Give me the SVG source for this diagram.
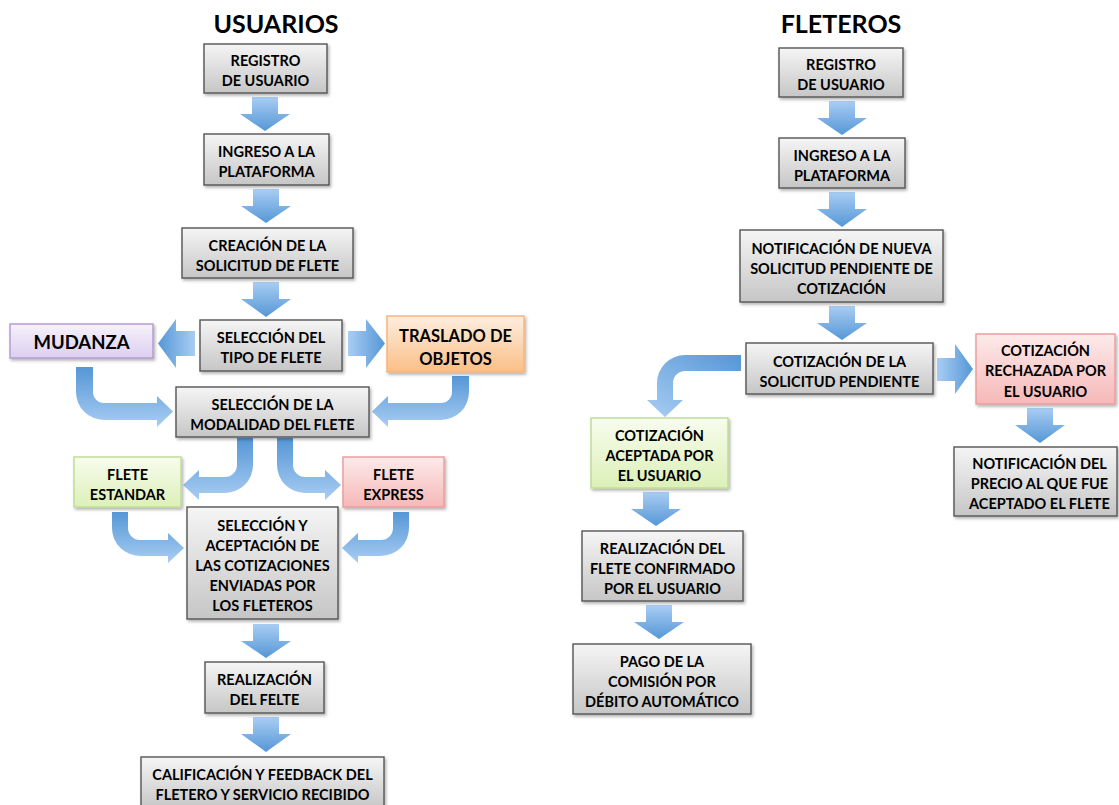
<svg xmlns="http://www.w3.org/2000/svg" width="1119" height="805" viewBox="0 0 1119 805">
<style>
text{font-family:Lato,"Liberation Sans",sans-serif;font-weight:bold;fill:#000;text-anchor:middle}
.t{font-size:14.5px}
.title{font-size:25px}
.box{stroke:#555;stroke-width:1.4;filter:url(#sh)}
.gray{fill:url(#gGray)}
.purple{fill:url(#gPurple);stroke:#b296d2}
.orange{fill:url(#gOrange);stroke:#f7b27a}
.green{fill:url(#gGreen);stroke:#bcdc92}
.red{fill:url(#gRed);stroke:#ea9a9a}
.ad{fill:url(#gDown)}
.ab{fill:url(#gBendV)}
</style>
<defs>
<filter id="sh" x="-10%" y="-10%" width="130%" height="140%">
<feDropShadow dx="1.5" dy="2" stdDeviation="1.5" flood-color="#000" flood-opacity="0.3"/>
</filter>
<linearGradient id="gGray" x1="0" y1="0" x2="0" y2="1"><stop offset="0" stop-color="#f5f5f5"/><stop offset="1" stop-color="#c6c6c6"/></linearGradient>
<linearGradient id="gPurple" x1="0" y1="0" x2="0" y2="1"><stop offset="0" stop-color="#f6f2fb"/><stop offset="1" stop-color="#dccff0"/></linearGradient>
<linearGradient id="gOrange" x1="0" y1="0" x2="0" y2="1"><stop offset="0" stop-color="#fdeee0"/><stop offset="1" stop-color="#fbbf86"/></linearGradient>
<linearGradient id="gGreen" x1="0" y1="0" x2="0" y2="1"><stop offset="0" stop-color="#f8fcee"/><stop offset="1" stop-color="#dcf0b8"/></linearGradient>
<linearGradient id="gRed" x1="0" y1="0" x2="0" y2="1"><stop offset="0" stop-color="#fdeaea"/><stop offset="1" stop-color="#f6b8b8"/></linearGradient>
<linearGradient id="gDown" x1="0" y1="0" x2="0" y2="1"><stop offset="0" stop-color="#a9cdf3"/><stop offset="1" stop-color="#5597d6"/></linearGradient>
<linearGradient id="gLeft" x1="0" y1="0" x2="1" y2="0"><stop offset="0" stop-color="#5597d6"/><stop offset="1" stop-color="#a9cdf3"/></linearGradient>
<linearGradient id="gRight" x1="0" y1="0" x2="1" y2="0"><stop offset="0" stop-color="#a9cdf3"/><stop offset="1" stop-color="#5597d6"/></linearGradient>
<linearGradient id="gBendV" x1="0" y1="0" x2="0" y2="1"><stop offset="0" stop-color="#5597d6"/><stop offset="1" stop-color="#a9cdf3"/></linearGradient>
<linearGradient id="gBendF" x1="1" y1="0" x2="0" y2="1"><stop offset="0" stop-color="#5597d6"/><stop offset="1" stop-color="#a9cdf3"/></linearGradient>
</defs>

<text class="title" x="276" y="33">USUARIOS</text>
<text class="title" x="841" y="33">FLETEROS</text>

<g id="connectors">
<path class="ad" d="M252,97 H278 V114 H290 L265,131 L240,114 H252 Z"/>
<path class="ad" d="M253,189 H279 V206 H291 L266,223 L241,206 H253 Z"/>
<path class="ad" d="M253,282 H279 V299 H291 L266,317 L241,299 H253 Z"/>
<path class="ad" d="M253,624 H279 V641 H291 L266,658 L241,641 H253 Z"/>
<path class="ad" d="M253,717 H279 V734 H291 L266,752 L241,734 H253 Z"/>
<path fill="url(#gLeft)" d="M195,331 V356 H176 V368 L158,343.5 L176,319 V331 Z"/>
<path fill="url(#gRight)" d="M348,331 V356 H366 V368 L385,343.5 L366,319 V331 Z"/>
<path class="ab" d="M76,367 H93 V392 A11,11 0 0 0 104,403 H157 V396 L173,411.5 L157,427 V420 H104 A28,28 0 0 1 76,392 Z"/>
<path class="ab" d="M469,376 V392 A28,28 0 0 1 441,420 H388 V427 L372,411.5 L388,396 V403 H441 A11,11 0 0 0 452,392 V376 Z"/>
<path class="ab" d="M253,438 V465 A28,28 0 0 1 225,493 H199 V500 L183,485 L199,470 V477 H225 A12,12 0 0 0 237,465 V438 Z"/>
<path class="ab" d="M277,438 H293 V465 A12,12 0 0 0 305,477 H325 V470 L341,485 L325,500 V493 H305 A28,28 0 0 1 277,465 Z"/>
<path class="ab" d="M112,512 H128 V528 A12,12 0 0 0 140,540 H168 V533 L184,548 L168,563 V556 H140 A28,28 0 0 1 112,528 Z"/>
<path class="ab" d="M409,512 V528 A28,28 0 0 1 381,556 H358 V563 L342,548 L358,533 V540 H381 A12,12 0 0 0 393,528 V512 Z"/>
<path class="ad" d="M829,101 H855 V118 H867 L842,135 L817,118 H829 Z"/>
<path class="ad" d="M829,192 H855 V209 H867 L842,227 L817,209 H829 Z"/>
<path class="ad" d="M829,306 H855 V323 H867 L842,340 L817,323 H829 Z"/>
<path fill="url(#gRight)" d="M937,358 V381 H955 V394 L973,369 L955,344 V358 Z"/>
<path class="ad" d="M1027,408 H1053 V425 H1065 L1040,443 L1015,425 H1027 Z"/>
<path fill="url(#gBendF)" d="M741,355 V371 H685 A12,12 0 0 0 673,383 V400 H683 L665,417 L647,400 H657 V383 A28,28 0 0 1 685,355 Z"/>
<path class="ad" d="M643,492 H669 V509 H681 L656,526 L631,509 H643 Z"/>
<path class="ad" d="M646,605 H672 V622 H684 L659,639 L634,622 H646 Z"/>
</g>

<g id="u_registro"><rect class="box gray" x="204" y="44" width="123" height="49"/><text class="t" x="265.5" y="66">REGISTRO</text><text class="t" x="265.5" y="86">DE USUARIO</text></g>
<g id="u_ingreso"><rect class="box gray" x="204" y="134" width="125" height="51"/><text class="t" x="266.5" y="157">INGRESO A LA</text><text class="t" x="266.5" y="177">PLATAFORMA</text></g>
<g id="u_creacion"><rect class="box gray" x="182" y="228" width="171" height="50"/><text class="t" x="267.5" y="250.5">CREACIÓN DE LA</text><text class="t" x="267.5" y="270.5">SOLICITUD DE FLETE</text></g>
<g id="u_tipo"><rect class="box gray" x="200" y="320" width="142" height="51"/><text class="t" x="271" y="343">SELECCIÓN DEL</text><text class="t" x="271" y="363">TIPO DE FLETE</text></g>
<g id="u_mudanza"><rect class="box purple" x="10" y="324" width="143" height="34"/><text x="81.5" y="348.5" style="font-size:18.5px">MUDANZA</text></g>
<g id="u_traslado"><rect class="box orange" x="387" y="316" width="137" height="56"/><text x="455.5" y="342" style="font-size:16.5px">TRASLADO DE</text><text x="455.5" y="365" style="font-size:16.5px">OBJETOS</text></g>
<g id="u_modalidad"><rect class="box gray" x="176" y="387" width="193" height="50"/><text class="t" x="272.5" y="409.5">SELECCIÓN DE LA</text><text class="t" x="272.5" y="429.5">MODALIDAD DEL FLETE</text></g>
<g id="u_estandar"><rect class="box green" x="74" y="457" width="107" height="50"/><text class="t" x="127.5" y="479.5">FLETE</text><text class="t" x="127.5" y="499.5">ESTANDAR</text></g>
<g id="u_express"><rect class="box red" x="343" y="457" width="101" height="50"/><text class="t" x="393.5" y="479.5">FLETE</text><text class="t" x="393.5" y="499.5">EXPRESS</text></g>
<g id="u_seleccion"><rect class="box gray" x="187" y="507" width="151" height="112"/><text class="t" x="262.5" y="530.5">SELECCIÓN Y</text><text class="t" x="262.5" y="550.5">ACEPTACIÓN DE</text><text class="t" x="262.5" y="570.5">LAS COTIZACIONES</text><text class="t" x="262.5" y="590.5">ENVIADAS POR</text><text class="t" x="262.5" y="610.5">LOS FLETEROS</text></g>
<g id="u_realizacion"><rect class="box gray" x="205" y="662" width="119" height="51"/><text class="t" x="264.5" y="685">REALIZACIÓN</text><text class="t" x="264.5" y="705">DEL FELTE</text></g>
<g id="u_calificacion"><rect class="box gray" x="141" y="757" width="243" height="52"/><text class="t" x="262.5" y="780">CALIFICACIÓN Y FEEDBACK DEL</text><text class="t" x="262.5" y="800">FLETERO Y SERVICIO RECIBIDO</text></g>

<g id="f_registro"><rect class="box gray" x="779" y="48" width="124" height="49"/><text class="t" x="841" y="70">REGISTRO</text><text class="t" x="841" y="90">DE USUARIO</text></g>
<g id="f_ingreso"><rect class="box gray" x="779" y="138" width="126" height="50"/><text class="t" x="842" y="160.5">INGRESO A LA</text><text class="t" x="842" y="180.5">PLATAFORMA</text></g>
<g id="f_notificacion"><rect class="box gray" x="740" y="230" width="203" height="72"/><text class="t" x="841.5" y="253.5">NOTIFICACIÓN DE NUEVA</text><text class="t" x="841.5" y="273.5">SOLICITUD PENDIENTE DE</text><text class="t" x="841.5" y="293.5">COTIZACIÓN</text></g>
<g id="f_cotizacion"><rect class="box gray" x="746" y="343" width="187" height="51"/><text class="t" x="839.5" y="366.5">COTIZACIÓN DE LA</text><text class="t" x="839.5" y="386.5">SOLICITUD PENDIENTE</text></g>
<g id="f_rechazada"><rect class="box red" x="976" y="334" width="139" height="70"/><text class="t" x="1045.5" y="355.5">COTIZACIÓN</text><text class="t" x="1045.5" y="376">RECHAZADA POR</text><text class="t" x="1045.5" y="396.5">EL USUARIO</text></g>
<g id="f_notifprecio"><rect class="box gray" x="954" y="447" width="163" height="69"/><text class="t" x="1039.5" y="469">NOTIFICACIÓN DEL</text><text class="t" x="1039.5" y="489">PRECIO AL QUE FUE</text><text class="t" x="1039.5" y="509">ACEPTADO EL FLETE</text></g>
<g id="f_aceptada"><rect class="box green" x="591" y="418" width="137" height="70"/><text class="t" x="659.5" y="440.5">COTIZACIÓN</text><text class="t" x="659.5" y="460.5">ACEPTADA POR</text><text class="t" x="659.5" y="480.5">EL USUARIO</text></g>
<g id="f_realizacion"><rect class="box gray" x="582" y="531" width="161" height="70"/><text class="t" x="662.5" y="553.5">REALIZACIÓN DEL</text><text class="t" x="662.5" y="573.5">FLETE CONFIRMADO</text><text class="t" x="662.5" y="593.5">POR EL USUARIO</text></g>
<g id="f_pago"><rect class="box gray" x="573" y="644" width="178" height="70"/><text class="t" x="662" y="666.5">PAGO DE LA</text><text class="t" x="662" y="686.5">COMISIÓN POR</text><text class="t" x="662" y="706.5">DÉBITO AUTOMÁTICO</text></g>
</svg>
